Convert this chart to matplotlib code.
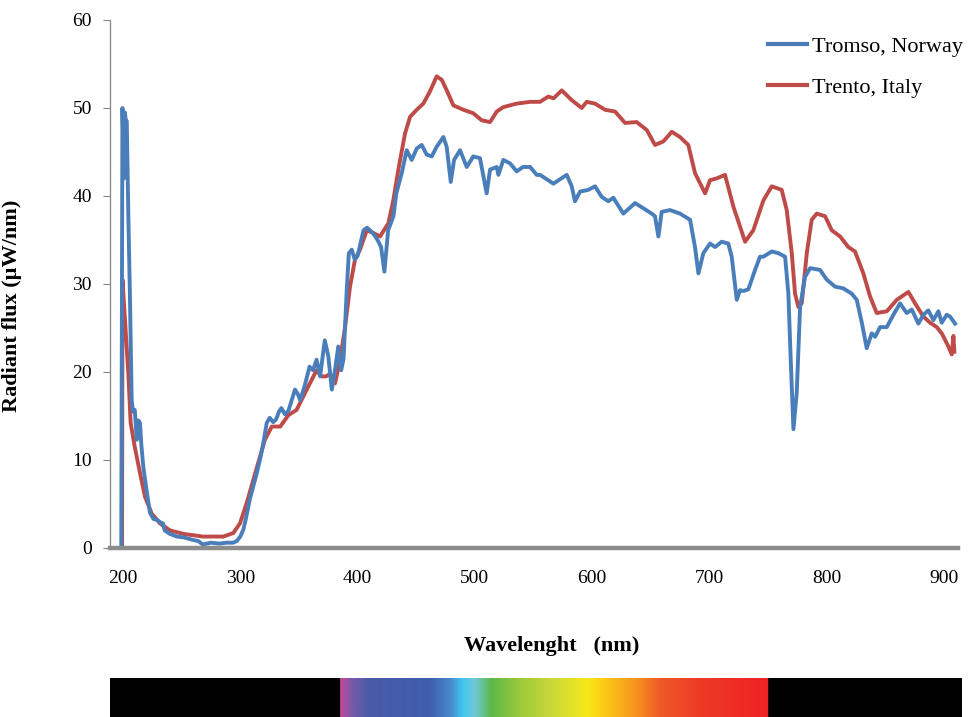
import numpy as np
import matplotlib
matplotlib.use("Agg")
import matplotlib.pyplot as plt
from matplotlib.colors import to_rgb

# ---------------- data ----------------
wl_tromso = [190, 198.5, 199.5, 200.2, 200.8, 201.5, 202.3, 203.2, 204.5, 205.8, 207.4, 208.5, 210,
             211.7, 213, 214.5, 215.5, 217.3, 220, 223, 226, 229, 232, 234, 235.5, 240, 246, 252,
             260, 264, 268, 275, 282, 288, 294, 297, 300, 302.6, 305, 308, 311, 314, 317, 319.6,
             322.5, 325, 328, 330.4, 333, 335, 338, 341, 344, 346.6, 349, 351, 355, 359, 362, 365,
             368, 372, 375, 378, 381, 383.5, 386, 388, 390.7, 392.5, 395, 397.5, 400, 405, 408,
             413, 417, 420, 422.8, 426, 430.5, 433, 437.6, 441.8, 446.1, 450.4, 454.6, 458.9,
             463.2, 467.4, 473.1, 475.9, 479.4, 482.2, 487.3, 493, 498.6, 504.3, 510, 512.9,
             518.6, 520, 524.2, 530, 535.6, 541, 547, 552.7, 555.5, 561.2, 566.9, 572.5, 578.3,
             582.5, 585.3, 589.6, 596.7, 602.4, 608.1, 613.7, 618, 626.5, 636.5, 643.6, 650.7,
             653.5, 656.4, 659.2, 666.3, 674.8, 683.4, 687.6, 690.5, 694.7, 700.4, 704.7, 710.4,
             716, 718.9, 723.2, 726, 728.8, 733.1, 738.8, 743, 745.9, 753, 758.7, 764.4, 767.2,
             769.2, 771.5, 774.3, 777.2, 781.4, 785.7, 794.2, 799.9, 807, 814.1, 821.2, 825.5,
             829.8, 834, 838.3, 841.1, 845.4, 851.1, 856.7, 862.4, 868.1, 872.4, 878, 882.3,
             886.5, 890.8, 895.1, 897.9, 902.2, 905, 909.3]
flux_tromso = [0, 0, 50.0, 46, 42, 49.5, 48.7, 48.5, 38, 29.3, 16.8, 15.5, 15.7,
               12.3, 14.5, 14.2, 11.9, 9.2, 6.6, 4.0, 3.3, 3.2, 2.9, 2.8, 2.0, 1.6, 1.3, 1.2,
               0.9, 0.8, 0.4, 0.6, 0.5, 0.6, 0.6, 0.8, 1.3, 2.1, 3.5, 5.5, 7.0, 8.5, 10.2, 11.9,
               14.2, 14.8, 14.3, 14.6, 15.5, 15.9, 15.2, 15.6, 16.9, 18.0, 17.5, 16.8, 18.5, 20.6, 20.2, 21.4,
               19.5, 23.6, 21.8, 18.0, 20.5, 22.9, 20.2, 21.5, 29.3, 33.5, 33.9, 32.8, 33.2, 36.1, 36.4,
               35.8, 35.0, 34.2, 31.4, 36.1, 37.7, 40.3, 42.6, 45.2, 44.1, 45.4, 45.8, 44.7,
               44.5, 45.6, 46.7, 45.6, 41.6, 44.1, 45.2, 43.3, 44.5, 44.3, 40.3, 43.0,
               43.3, 42.4, 44.1, 43.7, 42.8, 43.3, 43.3, 42.4, 42.4, 41.9, 41.4, 41.9, 42.4,
               41.1, 39.4, 40.5, 40.7, 41.1, 39.9, 39.4, 39.8, 38.0, 39.2, 38.6, 38.0,
               37.7, 35.4, 38.2, 38.4, 38.0, 37.3, 34.2, 31.2, 33.5, 34.6, 34.2, 34.8,
               34.6, 33.1, 28.2, 29.3, 29.2, 29.4, 31.6, 33.1, 33.1, 33.7, 33.5, 33.1, 28.9,
               21.4, 13.5, 17.6, 27.4, 30.8, 31.8, 31.6, 30.5, 29.7, 29.5, 28.9, 28.2,
               25.6, 22.7, 24.4, 24.0, 25.1, 25.1, 26.5, 27.8, 26.7, 27.1, 25.5, 26.5,
               27.0, 25.9, 26.9, 25.6, 26.5, 26.3, 25.5]

wl_trento = [190, 199.2, 199.5, 201.5, 204.5, 206.5, 210, 214.5, 218.8, 224.5, 231.5, 240, 251.6,
             268, 285.5, 294, 299.7, 305.4, 311, 316.8, 321, 326.8, 334, 341, 348, 356.6, 365,
             369, 373, 376.5, 380.7, 385, 389.3, 393.5, 397.8, 402, 407.8, 413.4, 419.1, 426.2,
             430.4, 434.7, 440.4, 444.7, 450.4, 456, 461.7, 467.4, 471.7, 476, 481.6, 490.1,
             498.6, 505.8, 512.9, 518.6, 524.2, 535.6, 547, 555.5, 562.6, 567, 574, 582.5, 591,
             595.3, 602.4, 610.9, 619.4, 628, 637.9, 646.5, 653.5, 660.6, 667.8, 674.8, 681.9,
             687.6, 696.2, 700.4, 706.1, 713.2, 720.3, 730.3, 737.3, 745.9, 753, 761.5, 765.8,
             770.1, 772.9, 775.7, 778.6, 782.9, 787.1, 791.4, 798.5, 804.2, 811.3, 818.3, 824,
             831.1, 836.8, 842.5, 851.1, 859.6, 869.5, 875.2, 882.3, 888, 893.7, 897.9, 903.6,
             906.5, 907.9, 908.7]
flux_trento = [0, 0, 30.5, 26.3, 19.9, 14.2, 11.5, 8.5, 5.8, 3.9, 2.8, 2.0, 1.6,
               1.3, 1.3, 1.7, 2.8, 5.1, 7.7, 10.4, 12.3, 13.8, 13.8, 15.1, 15.7, 18.0, 20.2,
               19.5, 19.5, 19.8, 18.7, 21.3, 25.1, 29.7, 32.8, 33.9, 36.1, 35.8, 35.4, 36.9,
               39.5, 43.0, 47.1, 49.0, 49.8, 50.5, 51.9, 53.6, 53.2, 52.0, 50.3, 49.8,
               49.4, 48.6, 48.4, 49.6, 50.1, 50.5, 50.7, 50.7, 51.3, 51.1, 52.0, 50.9, 50.0,
               50.7, 50.5, 49.8, 49.6, 48.3, 48.4, 47.5, 45.8, 46.2, 47.3, 46.7, 45.8,
               42.6, 40.3, 41.8, 42.0, 42.4, 38.8, 34.8, 36.1, 39.5, 41.1, 40.7, 38.4,
               33.5, 28.9, 27.4, 27.8, 33.5, 37.3, 38.0, 37.7, 36.1, 35.4, 34.2, 33.7,
               31.2, 28.6, 26.7, 26.9, 28.2, 29.1, 27.8, 26.3, 25.6, 25.1, 24.4, 22.9,
               22.0, 24.1, 22.3]

series_labels = ["Tromso, Norway", "Trento, Italy"]
y_ticks = [0, 10, 20, 30, 40, 50, 60]
x_ticks = [200, 300, 400, 500, 600, 700, 800, 900]

# visible spectrum colour stops (wavelength nm, colour)
spec_wl = [385, 395, 409, 462, 480, 489, 500, 514, 538, 564, 595, 607, 637, 658, 692, 750]
spec_col = ["#c6479a", "#7a5aa8", "#4a5aa8", "#3d5fae", "#4a8ccc", "#3ec6ee", "#6fc8d8",
            "#5cb946", "#9cc83a", "#c8d83a", "#f5e81a", "#fcd116", "#f7941d", "#ef5a28",
            "#ee3a24", "#ed2224"]

# ---------------- figure ----------------
plt.rcParams['font.family'] = ['Liberation Serif', 'DejaVu Serif']
W, H = 973, 717
fig = plt.figure(figsize=(W / 100, H / 100), dpi=100)

left, right, top, bottom = 110, 958, 20, 548
ax = fig.add_axes([left / W, 1 - bottom / H, (right - left) / W, (bottom - top) / H])
xlim = (188.9, 911.8)

ax.plot(wl_tromso, flux_tromso, color="#4a7ebb", lw=2.8, label=series_labels[0],
        solid_joinstyle="round", zorder=3)
ax.plot(wl_trento, flux_trento, color="#be4b48", lw=2.8, label=series_labels[1],
        solid_joinstyle="round", zorder=2)

ax.set_xlim(*xlim)
ax.set_ylim(0, 60)
ax.set_yticks(y_ticks)
ax.set_xticks(x_ticks)
ax.tick_params(axis="y", length=5, width=0.8, color="#868686", labelsize=14, pad=8)
ax.tick_params(axis="x", length=0, labelsize=14, pad=16)
for s in ("top", "right"):
    ax.spines[s].set_visible(False)
ax.spines["left"].set_color("#868686")
ax.spines["left"].set_linewidth(0.9)
ax.spines["bottom"].set_color("#8c8c8c")
ax.spines["bottom"].set_linewidth(3.2)
ax.spines["bottom"].set_zorder(5)

ax.set_xlabel("Wavelenght   (nm)", fontsize=16, fontweight="bold")
ax.xaxis.set_label_coords((552 - left) / (right - left), -(636 - bottom) / (bottom - top))
ax.set_ylabel("Radiant flux (\u00b5W/nm)", fontsize=16, fontweight="bold")
ax.yaxis.set_label_coords(-(left - 22) / (right - left), (bottom - 306) / (bottom - top))

leg = ax.legend(loc="upper left", bbox_to_anchor=(768 / W, 1 - 36 / H),
                bbox_transform=fig.transFigure, frameon=False, fontsize=16,
                handlelength=1.75, handletextpad=0.25, labelspacing=0.95,
                borderpad=0, borderaxespad=0)
for line in leg.get_lines():
    line.set_linewidth(3)

# spectrum bar
bax = fig.add_axes([left / W, 0, (962 - left) / W, 39 / H])
xs = np.linspace(xlim[0], xlim[0] + (xlim[1] - xlim[0]) * (962 - left) / (right - left), 1200)
rgb = np.array([to_rgb(c) for c in spec_col])
img = np.zeros((1, len(xs), 3))
for k in range(3):
    img[0, :, k] = np.interp(xs, spec_wl, rgb[:, k])
outside = (xs < spec_wl[0]) | (xs > spec_wl[-1])
img[0, outside, :] = 0
bax.imshow(img, aspect="auto", extent=(xs[0], xs[-1], 0, 1), interpolation="bilinear")
bax.set_axis_off()

fig.savefig("out.png", dpi=100)
